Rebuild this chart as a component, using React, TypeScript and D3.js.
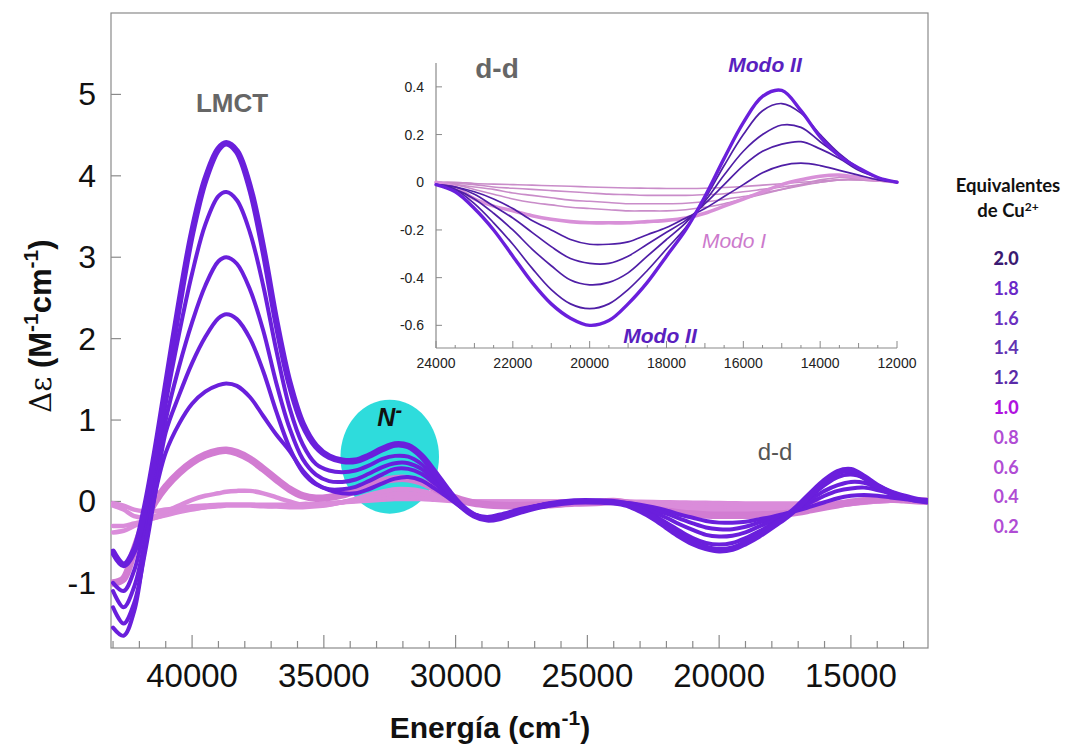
import React from "react";
import * as d3 from "d3";

// ---------- DATA ----------
const EQUIVALENTS = ["2.0", "1.8", "1.6", "1.4", "1.2", "1.0", "0.8", "0.6", "0.4", "0.2"];

// UV region (cm-1), main chart only
const UV_E = [43000, 42600, 42200, 41800, 41400, 41000, 40500, 40000, 39500, 39000, 38700, 38300, 37800, 37300, 36800, 36300, 35800, 35300, 34800, 34300, 33800, 33300, 32800, 32300, 31800, 31300, 30800, 30300, 29800, 29300, 28800, 28300, 27500, 26500, 25500, 24500];

const uv20 = [-0.62, -0.78, -0.6, -0.1, 0.6, 1.4, 2.4, 3.3, 3.95, 4.33, 4.4, 4.3, 3.85, 3.1, 2.2, 1.45, 0.95, 0.68, 0.55, 0.5, 0.5, 0.56, 0.64, 0.7, 0.68, 0.56, 0.36, 0.14, -0.05, -0.17, -0.22, -0.2, -0.12, -0.04, 0.0, 0.0];
const uv18 = [-1.0, -1.1, -0.85, -0.3, 0.4, 1.2, 2.05, 2.8, 3.4, 3.75, 3.8, 3.7, 3.3, 2.65, 1.85, 1.15, 0.7, 0.46, 0.38, 0.36, 0.38, 0.44, 0.52, 0.56, 0.55, 0.46, 0.3, 0.12, -0.05, -0.16, -0.21, -0.19, -0.11, -0.04, 0.0, 0.0];
const uv16 = [-1.1, -1.3, -1.05, -0.5, 0.25, 1.0, 1.65, 2.2, 2.65, 2.95, 3.0, 2.92, 2.6, 2.1, 1.45, 0.9, 0.52, 0.33, 0.25, 0.24, 0.27, 0.34, 0.42, 0.47, 0.47, 0.4, 0.26, 0.1, -0.06, -0.16, -0.2, -0.18, -0.1, -0.03, 0.0, 0.0];
const uv14 = [-1.3, -1.5, -1.25, -0.65, 0.1, 0.85, 1.3, 1.7, 2.02, 2.25, 2.3, 2.24, 2.0, 1.6, 1.1, 0.66, 0.36, 0.21, 0.15, 0.15, 0.18, 0.25, 0.33, 0.4, 0.4, 0.34, 0.22, 0.08, -0.06, -0.16, -0.2, -0.17, -0.1, -0.03, 0.0, 0.0];
const uv12 = [-1.55, -1.65, -1.35, -0.6, 0.1, 0.6, 0.95, 1.2, 1.35, 1.43, 1.45, 1.42, 1.28, 1.05, 0.82, 0.62, 0.38, 0.22, 0.14, 0.1, 0.1, 0.15, 0.22, 0.28, 0.3, 0.26, 0.16, 0.05, -0.07, -0.16, -0.19, -0.16, -0.09, -0.03, 0.0, 0.0];
const uv10 = [-1.0, -0.95, -0.6, -0.25, 0.0, 0.18, 0.35, 0.48, 0.57, 0.62, 0.63, 0.6, 0.52, 0.4, 0.27, 0.15, 0.07, 0.04, 0.05, 0.08, 0.13, 0.19, 0.25, 0.28, 0.28, 0.24, 0.16, 0.08, 0.02, -0.02, -0.04, -0.05, -0.05, -0.04, -0.02, -0.01];
const uv08 = [-0.38, -0.36, -0.3, -0.24, -0.18, -0.12, -0.05, 0.02, 0.07, 0.1, 0.12, 0.13, 0.13, 0.1, 0.05, 0.0, -0.04, -0.05, -0.04, -0.01, 0.03, 0.08, 0.12, 0.15, 0.15, 0.13, 0.09, 0.05, 0.01, -0.01, -0.02, -0.03, -0.03, -0.02, -0.01, -0.01];
const uv06 = [-0.05, -0.1, -0.18, -0.2, -0.2, -0.17, -0.13, -0.1, -0.07, -0.05, -0.04, -0.04, -0.04, -0.05, -0.06, -0.07, -0.07, -0.06, -0.04, -0.01, 0.02, 0.05, 0.08, 0.1, 0.1, 0.09, 0.06, 0.03, 0.01, 0.0, -0.01, -0.01, -0.01, -0.01, 0.0, 0.0];
const uv04 = [-0.3, -0.3, -0.27, -0.24, -0.2, -0.16, -0.12, -0.09, -0.07, -0.06, -0.05, -0.05, -0.05, -0.06, -0.06, -0.06, -0.05, -0.04, -0.03, -0.01, 0.01, 0.03, 0.05, 0.06, 0.06, 0.05, 0.04, 0.02, 0.01, 0.0, 0.0, 0.0, 0.0, 0.0, 0.0, 0.0];
const uv02 = [-0.02, -0.05, -0.1, -0.12, -0.12, -0.1, -0.08, -0.06, -0.05, -0.04, -0.04, -0.04, -0.04, -0.04, -0.04, -0.04, -0.03, -0.03, -0.02, -0.01, 0.0, 0.01, 0.02, 0.03, 0.03, 0.03, 0.02, 0.01, 0.0, 0.0, 0.0, 0.0, 0.0, 0.0, 0.0, 0.0];

// d-d region (cm-1), shared by main chart and inset
const DD_E = [24000, 23500, 23000, 22500, 22000, 21500, 21000, 20500, 20000, 19500, 19000, 18500, 18000, 17500, 17000, 16500, 16000, 15500, 15000, 14500, 14000, 13500, 13000, 12500, 12000];

const dd20 = [-0.01, -0.04, -0.11, -0.2, -0.31, -0.42, -0.51, -0.57, -0.6, -0.58, -0.51, -0.42, -0.31, -0.2, -0.06, 0.1, 0.25, 0.36, 0.385, 0.3, 0.19, 0.11, 0.06, 0.02, 0.0];
const dd18 = [-0.01, -0.03, -0.09, -0.17, -0.26, -0.36, -0.45, -0.51, -0.53, -0.51, -0.45, -0.37, -0.28, -0.19, -0.07, 0.07, 0.2, 0.3, 0.33, 0.29, 0.2, 0.12, 0.06, 0.02, 0.0];
const dd16 = [-0.01, -0.03, -0.07, -0.13, -0.2, -0.28, -0.35, -0.41, -0.43, -0.42, -0.38, -0.31, -0.24, -0.17, -0.08, 0.03, 0.13, 0.2, 0.24, 0.23, 0.17, 0.11, 0.06, 0.02, 0.0];
const dd14 = [-0.01, -0.02, -0.05, -0.1, -0.15, -0.21, -0.27, -0.32, -0.34, -0.34, -0.31, -0.26, -0.21, -0.16, -0.09, -0.01, 0.07, 0.13, 0.16, 0.17, 0.14, 0.1, 0.05, 0.02, 0.0];
const dd12 = [-0.01, -0.02, -0.04, -0.07, -0.11, -0.16, -0.2, -0.24, -0.26, -0.26, -0.25, -0.22, -0.19, -0.15, -0.11, -0.06, -0.01, 0.04, 0.07, 0.08, 0.07, 0.05, 0.03, 0.01, 0.0];
const dd10 = [0.0, -0.02, -0.07, -0.1, -0.12, -0.14, -0.155, -0.165, -0.17, -0.17, -0.17, -0.165, -0.16, -0.15, -0.13, -0.1, -0.07, -0.04, -0.01, 0.01, 0.025, 0.03, 0.02, 0.01, 0.0];
const dd08 = [0.0, -0.01, -0.03, -0.05, -0.07, -0.085, -0.095, -0.105, -0.11, -0.115, -0.12, -0.12, -0.12, -0.115, -0.105, -0.09, -0.07, -0.05, -0.03, -0.01, 0.01, 0.02, 0.02, 0.01, 0.0];
const dd06 = [0.0, -0.01, -0.02, -0.03, -0.045, -0.055, -0.065, -0.075, -0.08, -0.085, -0.09, -0.09, -0.09, -0.088, -0.082, -0.072, -0.06, -0.045, -0.03, -0.015, 0.0, 0.01, 0.015, 0.01, 0.0];
const dd04 = [0.0, -0.005, -0.01, -0.02, -0.025, -0.03, -0.035, -0.04, -0.045, -0.05, -0.052, -0.055, -0.055, -0.055, -0.052, -0.048, -0.04, -0.03, -0.02, -0.01, 0.0, 0.01, 0.01, 0.005, 0.0];
const dd02 = [0.0, 0.0, -0.005, -0.008, -0.01, -0.012, -0.015, -0.017, -0.02, -0.022, -0.024, -0.025, -0.026, -0.026, -0.025, -0.022, -0.018, -0.012, -0.006, 0.0, 0.005, 0.01, 0.01, 0.005, 0.0];

const MAIN_Y_TICKS = [-1, 0, 1, 2, 3, 4, 5];
const MAIN_X_TICKS = [40000, 35000, 30000, 25000, 20000, 15000];
const INSET_Y_TICKS = [-0.6, -0.4, -0.2, 0, 0.2, 0.4];
const INSET_X_TICKS = [24000, 22000, 20000, 18000, 16000, 14000, 12000];

// ---------- STYLES ----------
const PURPLE = "#6a1fdc";
const PURPLE_DARK = "#4f1ea6";
const PINK = "#da8cda";
const PINK_THICK = "#d27cd2";

type Series = { key: string; uv: number[]; dd: number[]; kind: "pink" | "pinkThick" | "purple" | "purpleTop" };
const SERIES: Series[] = [
  { key: "0.2", uv: uv02, dd: dd02, kind: "pink" },
  { key: "0.4", uv: uv04, dd: dd04, kind: "pink" },
  { key: "0.6", uv: uv06, dd: dd06, kind: "pink" },
  { key: "0.8", uv: uv08, dd: dd08, kind: "pink" },
  { key: "1.0", uv: uv10, dd: dd10, kind: "pinkThick" },
  { key: "1.2", uv: uv12, dd: dd12, kind: "purple" },
  { key: "1.4", uv: uv14, dd: dd14, kind: "purple" },
  { key: "1.6", uv: uv16, dd: dd16, kind: "purple" },
  { key: "1.8", uv: uv18, dd: dd18, kind: "purple" },
  { key: "2.0", uv: uv20, dd: dd20, kind: "purpleTop" },
];

const MAIN_STYLE: Record<string, { c: string; w: number }> = {
  pink: { c: PINK, w: 4.5 },
  pinkThick: { c: PINK_THICK, w: 7.5 },
  purple: { c: PURPLE, w: 4 },
  purpleTop: { c: PURPLE, w: 6.5 },
};
const INSET_STYLE: Record<string, { c: string; w: number }> = {
  pink: { c: "#c98cc9", w: 1.6 },
  pinkThick: { c: "#d890d8", w: 3.6 },
  purple: { c: PURPLE_DARK, w: 1.7 },
  purpleTop: { c: PURPLE, w: 3.4 },
};

const LEGEND_COLORS = ["#3b1a72", "#6a28c8", "#6a30c0", "#6232b2", "#5a2aa8", "#b012e0", "#b04cd4", "#b04cd4", "#b04cd4", "#b04cd4"];

const AX = "#8a8a8a";

export default function App() {
  // main scales
  const L = 111, R = 928, T = 13, B = 648;
  const x = d3.scaleLinear().domain([43077, 12074]).range([L, R]);
  const y = d3.scaleLinear().domain([-1.8, 6]).range([B, T]);

  // inset scales
  const iL = 436, iR = 897, iT = 63, iB = 348;
  const ix = d3.scaleLinear().domain([24000, 12000]).range([iL, iR]);
  const iy = d3.scaleLinear().domain([-0.695, 0.5]).range([iB, iT]);

  const mainLine = d3
    .line<[number, number]>()
    .x((d) => x(d[0]))
    .y((d) => y(d[1]))
    .curve(d3.curveCatmullRom.alpha(0.5));
  const insetLine = d3
    .line<[number, number]>()
    .x((d) => ix(d[0]))
    .y((d) => iy(d[1]))
    .curve(d3.curveCatmullRom.alpha(0.5));

  const mainPts = (s: Series): [number, number][] => [
    ...UV_E.map((e, i) => [e, s.uv[i]] as [number, number]),
    ...DD_E.map((e, i) => [e, s.dd[i]] as [number, number]),
  ];
  const insetPts = (s: Series): [number, number][] => DD_E.map((e, i) => [e, s.dd[i]] as [number, number]);

  const mainMinor = d3.range(43000, 12000, -1000);
  const insetMinor = d3.range(24000, 11999, -500);

  const font = "'Liberation Sans', Arial, sans-serif";
  const legendFont = "Lato, 'Open Sans', sans-serif";

  return (
    <svg width={1073} height={751} style={{ position: "absolute", left: 0, top: 0, background: "#fff" }} fontFamily={font}>
      <defs>
        <clipPath id="mainClip">
          <rect x={L} y={T} width={R - L} height={B - T} />
        </clipPath>
      </defs>
      <rect width={1073} height={751} fill="#fff" />

      {/* frame */}
      <rect x={L} y={T} width={R - L} height={B - T} fill="none" stroke={AX} strokeWidth={1.2} />

      {/* main y ticks */}
      {MAIN_Y_TICKS.map((t) => (
        <g key={"my" + t}>
          <line x1={L} x2={L + 10} y1={y(t)} y2={y(t)} stroke={AX} strokeWidth={1.2} />
          <text x={96} y={y(t) + 11} textAnchor="end" fontSize={32} fill="#111">
            {t}
          </text>
        </g>
      ))}
      {/* main x ticks */}
      {mainMinor.map((t) => (
        <line key={"mx" + t} x1={x(t)} x2={x(t)} y1={B} y2={B - (t % 5000 === 0 ? 13 : 7)} stroke={AX} strokeWidth={1.2} />
      ))}
      {MAIN_X_TICKS.map((t) => (
        <text key={"mxl" + t} x={x(t)} y={687} textAnchor="middle" fontSize={33} fill="#111">
          {t}
        </text>
      ))}

      {/* axis titles */}
      <text x={490} y={738} textAnchor="middle" fontSize={30} fontWeight="bold" fill="#111">
        Energía (cm
        <tspan dy={-13} fontSize={21}>-1</tspan>
        <tspan dy={13}>)</tspan>
      </text>
      <text transform="translate(51,326) rotate(-90)" textAnchor="middle" fontSize={31} fontWeight="bold" fill="#111">
        <tspan fontWeight="normal" fontFamily="'DejaVu Serif', serif" fontSize={29}>Δε</tspan>
        <tspan> (M</tspan>
        <tspan dy={-13} fontSize={21}>-1</tspan>
        <tspan dy={13}>cm</tspan>
        <tspan dy={-13} fontSize={21}>-1</tspan>
        <tspan dy={13}>)</tspan>
      </text>

      {/* cyan N- ellipse */}
      <ellipse cx={x(32500)} cy={y(0.55)} rx={x(32500) - x(34370)} ry={y(0.55) - y(1.25)} fill="#2edcdc" />

      {/* main curves */}
      <g clipPath="url(#mainClip)" fill="none" strokeLinejoin="round" strokeLinecap="round">
        {SERIES.map((s) => (
          <path key={"m" + s.key} d={mainLine(mainPts(s)) || ""} stroke={MAIN_STYLE[s.kind].c} strokeWidth={MAIN_STYLE[s.kind].w} />
        ))}
      </g>

      <text x={x(32500)} y={y(0.93)} textAnchor="middle" fontSize={25} fontWeight="bold" fontStyle="italic" fill="#111">
        N
        <tspan dy={-9} fontSize={20}>-</tspan>
      </text>

      <text x={232} y={112} textAnchor="middle" fontSize={26} fontWeight="bold" fill="#666">
        LMCT
      </text>
      <text x={775} y={460} textAnchor="middle" fontSize={24} fill="#555">
        d-d
      </text>

      {/* ---------- inset ---------- */}
      <line x1={iL} x2={iL} y1={iT} y2={iB} stroke={AX} strokeWidth={1.2} />
      <line x1={iL} x2={iR} y1={iB} y2={iB} stroke={AX} strokeWidth={1.2} />
      {INSET_Y_TICKS.map((t) => (
        <g key={"iy" + t}>
          <line x1={iL} x2={iL + 6} y1={iy(t)} y2={iy(t)} stroke={AX} strokeWidth={1} />
          <text x={424} y={iy(t) + 5} textAnchor="end" fontSize={14} fill="#222">
            {t === 0 ? "0" : d3.format(".1f")(t).replace("−", "-")}
          </text>
        </g>
      ))}
      {insetMinor.map((t) => (
        <line
          key={"ix" + t}
          x1={ix(t)}
          x2={ix(t)}
          y1={iB}
          y2={iB - (t % 2000 === 0 ? 7 : t % 1000 === 0 ? 5 : 3)}
          stroke={AX}
          strokeWidth={1}
        />
      ))}
      {INSET_X_TICKS.map((t) => (
        <text key={"ixl" + t} x={ix(t)} y={368} textAnchor="middle" fontSize={14} fill="#222">
          {t}
        </text>
      ))}
      <g fill="none" strokeLinejoin="round" strokeLinecap="round">
        {SERIES.map((s) => (
          <path key={"i" + s.key} d={insetLine(insetPts(s)) || ""} stroke={INSET_STYLE[s.kind].c} strokeWidth={INSET_STYLE[s.kind].w} />
        ))}
      </g>
      <text x={497} y={78} textAnchor="middle" fontSize={28} fontWeight="bold" fill="#666">
        d-d
      </text>
      <text x={765} y={72} textAnchor="middle" fontSize={21} fontWeight="bold" fontStyle="italic" fill="#5a1fc0">
        Modo II
      </text>
      <text x={660} y={343} textAnchor="middle" fontSize={21} fontWeight="bold" fontStyle="italic" fill="#5a1fc0">
        Modo II
      </text>
      <text x={734} y={248} textAnchor="middle" fontSize={21} fontStyle="italic" fill="#cc7acc">
        Modo I
      </text>

      {/* ---------- legend ---------- */}
      <text x={1008} y={192} textAnchor="middle" fontSize={18.5} fontWeight="bold" fill="#111" fontFamily={legendFont}>
        Equivalentes
      </text>
      <text x={1008} y={217} textAnchor="middle" fontSize={18.5} fontWeight="bold" fill="#111" fontFamily={legendFont}>
        de Cu
        <tspan dy={-6} fontSize={12}>2+</tspan>
      </text>
      {EQUIVALENTS.map((e, i) => (
        <text
          key={"lg" + e}
          x={1006}
          y={265 + i * 29.8}
          textAnchor="middle"
          fontSize={18}
          fontWeight={e === "2.0" || e === "1.0" ? 900 : 700}
          fill={LEGEND_COLORS[i]}
          fontFamily={legendFont}
        >
          {e}
        </text>
      ))}
    </svg>
  );
}
